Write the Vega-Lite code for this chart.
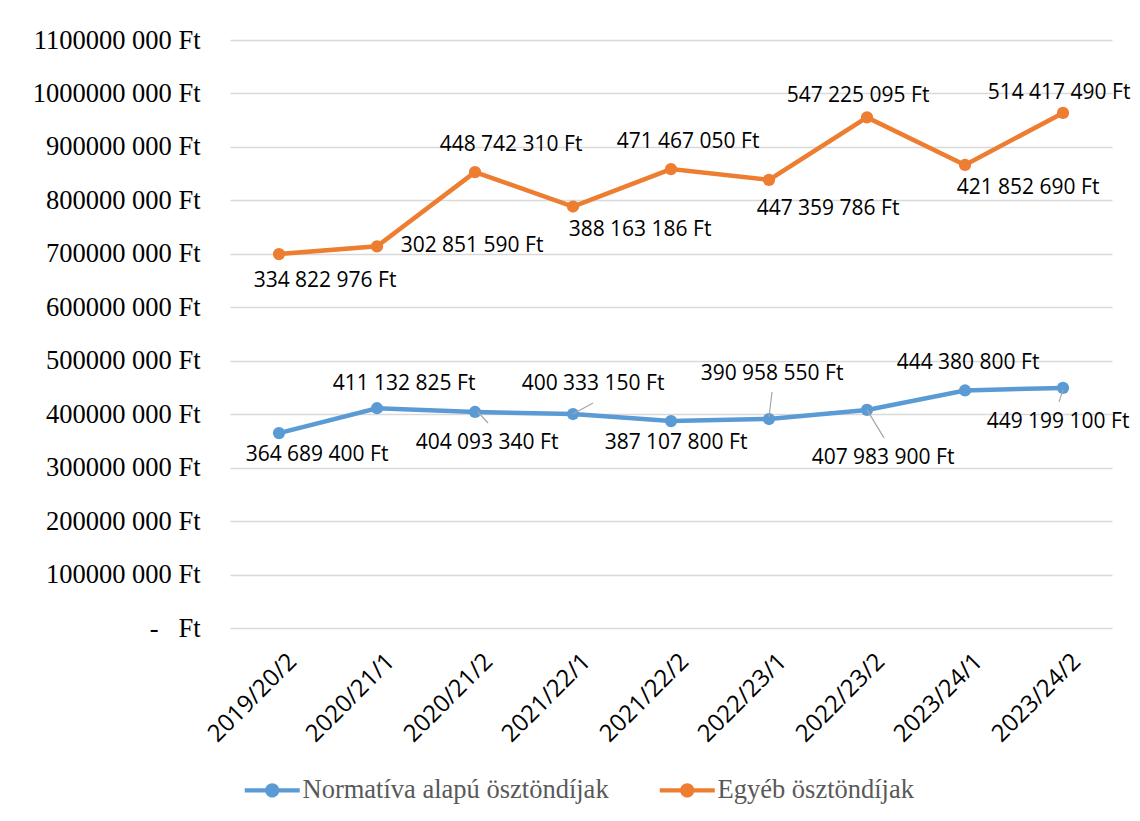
{
  "$schema": "https://vega.github.io/schema/vega-lite/v6.json",
  "width": 882,
  "height": 588,
  "autosize": {"type": "none"},
  "padding": {"left": 230, "top": 40, "right": 28, "bottom": 193},
  "background": "white",
  "config": {"view": {"stroke": null}, "font": "Open Sans"},
  "data": {"values": [
    {"cat": "2019/20/2", "series": "Normatíva alapú ösztöndíjak", "value": 364689400},
    {"cat": "2020/21/1", "series": "Normatíva alapú ösztöndíjak", "value": 411132825},
    {"cat": "2020/21/2", "series": "Normatíva alapú ösztöndíjak", "value": 404093340},
    {"cat": "2021/22/1", "series": "Normatíva alapú ösztöndíjak", "value": 400333150},
    {"cat": "2021/22/2", "series": "Normatíva alapú ösztöndíjak", "value": 387107800},
    {"cat": "2022/23/1", "series": "Normatíva alapú ösztöndíjak", "value": 390958550},
    {"cat": "2022/23/2", "series": "Normatíva alapú ösztöndíjak", "value": 407983900},
    {"cat": "2023/24/1", "series": "Normatíva alapú ösztöndíjak", "value": 444380800},
    {"cat": "2023/24/2", "series": "Normatíva alapú ösztöndíjak", "value": 449199100},
    {"cat": "2019/20/2", "series": "Egyéb ösztöndíjak", "value": 334822976},
    {"cat": "2020/21/1", "series": "Egyéb ösztöndíjak", "value": 302851590},
    {"cat": "2020/21/2", "series": "Egyéb ösztöndíjak", "value": 448742310},
    {"cat": "2021/22/1", "series": "Egyéb ösztöndíjak", "value": 388163186},
    {"cat": "2021/22/2", "series": "Egyéb ösztöndíjak", "value": 471467050},
    {"cat": "2022/23/1", "series": "Egyéb ösztöndíjak", "value": 447359786},
    {"cat": "2022/23/2", "series": "Egyéb ösztöndíjak", "value": 547225095},
    {"cat": "2023/24/1", "series": "Egyéb ösztöndíjak", "value": 421852690},
    {"cat": "2023/24/2", "series": "Egyéb ösztöndíjak", "value": 514417490}
  ]},
  "transform": [
    {"stack": "value", "groupby": ["cat"], "sort": [{"field": "series", "order": "descending"}], "as": ["y0", "y1"]},
    {"calculate": "join(split(format(datum.value, ','), ','), ' ') + ' Ft'", "as": "label"}
  ],
  "encoding": {
    "x": {
      "field": "cat", "type": "ordinal",
      "sort": ["2019/20/2", "2020/21/1", "2020/21/2", "2021/22/1", "2021/22/2", "2022/23/1", "2022/23/2", "2023/24/1", "2023/24/2"],
      "scale": {"type": "point", "padding": 0.5},
      "axis": {"title": null, "labelAngle": -45, "labelFont": "Open Sans", "labelFontSize": 24, "labelColor": "#000000", "ticks": false, "domain": false, "grid": false, "labelPadding": 21, "labelOffset": 5}
    },
    "y": {
      "field": "y1", "type": "quantitative",
      "scale": {"domain": [0, 1100000000], "nice": false},
      "axis": {
        "title": null,
        "values": [0, 100000000, 200000000, 300000000, 400000000, 500000000, 600000000, 700000000, 800000000, 900000000, 1000000000, 1100000000],
        "labelExpr": "datum.value == 0 ? '-\u00a0\u00a0\u00a0Ft' : format(datum.value / 1000, 'd') + ' 000 Ft'",
        "labelFont": "Liberation Serif", "labelFontSize": 26.5, "labelColor": "#000000",
        "labelPadding": 30, "ticks": false, "domain": false,
        "gridColor": "#D9D9D9", "gridWidth": 1.5
      }
    },
    "color": {
      "field": "series", "type": "nominal",
      "scale": {"domain": ["Normatíva alapú ösztöndíjak", "Egyéb ösztöndíjak"], "range": ["#5B9BD5", "#ED7D31"]},
      "legend": {
        "title": null, "orient": "none", "direction": "horizontal",
        "legendX": 29, "legendY": 737, "padding": 0,
        "labelFont": "Liberation Serif", "labelFontSize": 26.5, "labelColor": "#595959", "labelLimit": 0,
        "symbolSize": 484, "labelOffset": 17, "columnPadding": 50,
        "encode": {"symbols": {"update": {
          "shape": {"value": "M-2.5,-0.2 L2.5,-0.2 L2.5,0.2 L-2.5,0.2 Z M-0.64,0 A0.64,0.64 0 1,1 0.64,0 A0.64,0.64 0 1,1 -0.64,0 Z"},
          "fill": {"scale": "color", "field": "value"},
          "stroke": {"value": "transparent"},
          "strokeWidth": {"value": 0},
          "opacity": {"value": 1},
          "fillOpacity": {"value": 1},
          "size": {"value": 484}
        }}}
      }
    }
  },
  "layer": [
    {"mark": {"type": "line", "strokeWidth": 4.5}},
    {"mark": {"type": "point", "filled": true, "size": 150, "opacity": 1}},
    {
      "encoding": {"color": {"value": "#A6A6A6"}, "x2": {"field": "cat"}, "y2": {"field": "y1"}},
      "layer": [
        {"transform": [{"filter": "datum.cat == '2020/21/2' && datum.series == 'Normatíva alapú ösztöndíjak'"}], "mark": {"type": "rule", "strokeWidth": 1.2, "xOffset": 3, "yOffset": 0, "x2Offset": 13, "y2Offset": 11}},
        {"transform": [{"filter": "datum.cat == '2021/22/1' && datum.series == 'Normatíva alapú ösztöndíjak'"}], "mark": {"type": "rule", "strokeWidth": 1.2, "xOffset": 0, "yOffset": 0, "x2Offset": 20, "y2Offset": -11}},
        {"transform": [{"filter": "datum.cat == '2022/23/1' && datum.series == 'Normatíva alapú ösztöndíjak'"}], "mark": {"type": "rule", "strokeWidth": 1.2, "xOffset": 0, "yOffset": -2, "x2Offset": 3, "y2Offset": -27}},
        {"transform": [{"filter": "datum.cat == '2022/23/2' && datum.series == 'Normatíva alapú ösztöndíjak'"}], "mark": {"type": "rule", "strokeWidth": 1.2, "xOffset": 0, "yOffset": 0, "x2Offset": 17, "y2Offset": 28}},
        {"transform": [{"filter": "datum.cat == '2023/24/2' && datum.series == 'Normatíva alapú ösztöndíjak'"}], "mark": {"type": "rule", "strokeWidth": 1.2, "xOffset": 0, "yOffset": 2, "x2Offset": -4, "y2Offset": 14}}
      ]
    },
    {
      "encoding": {"text": {"field": "label"}, "color": {"value": "#000000"}},
      "layer": [
        {"transform": [{"filter": "datum.cat == '2019/20/2' && datum.series == 'Normatíva alapú ösztöndíjak'"}], "mark": {"type": "text", "font": "Open Sans", "fontSize": 21, "baseline": "middle", "align": "center", "dx": 38, "dy": 22}},
        {"transform": [{"filter": "datum.cat == '2020/21/1' && datum.series == 'Normatíva alapú ösztöndíjak'"}], "mark": {"type": "text", "font": "Open Sans", "fontSize": 21, "baseline": "middle", "align": "center", "dx": 27, "dy": -24}},
        {"transform": [{"filter": "datum.cat == '2020/21/2' && datum.series == 'Normatíva alapú ösztöndíjak'"}], "mark": {"type": "text", "font": "Open Sans", "fontSize": 21, "baseline": "middle", "align": "center", "dx": 12, "dy": 31}},
        {"transform": [{"filter": "datum.cat == '2021/22/1' && datum.series == 'Normatíva alapú ösztöndíjak'"}], "mark": {"type": "text", "font": "Open Sans", "fontSize": 21, "baseline": "middle", "align": "center", "dx": 20, "dy": -30}},
        {"transform": [{"filter": "datum.cat == '2021/22/2' && datum.series == 'Normatíva alapú ösztöndíjak'"}], "mark": {"type": "text", "font": "Open Sans", "fontSize": 21, "baseline": "middle", "align": "center", "dx": 5, "dy": 22}},
        {"transform": [{"filter": "datum.cat == '2022/23/1' && datum.series == 'Normatíva alapú ösztöndíjak'"}], "mark": {"type": "text", "font": "Open Sans", "fontSize": 21, "baseline": "middle", "align": "center", "dx": 3, "dy": -45}},
        {"transform": [{"filter": "datum.cat == '2022/23/2' && datum.series == 'Normatíva alapú ösztöndíjak'"}], "mark": {"type": "text", "font": "Open Sans", "fontSize": 21, "baseline": "middle", "align": "center", "dx": 16, "dy": 48}},
        {"transform": [{"filter": "datum.cat == '2023/24/1' && datum.series == 'Normatíva alapú ösztöndíjak'"}], "mark": {"type": "text", "font": "Open Sans", "fontSize": 21, "baseline": "middle", "align": "center", "dx": 3, "dy": -27}},
        {"transform": [{"filter": "datum.cat == '2023/24/2' && datum.series == 'Normatíva alapú ösztöndíjak'"}], "mark": {"type": "text", "font": "Open Sans", "fontSize": 21, "baseline": "middle", "align": "center", "dx": -5, "dy": 34}},
        {"transform": [{"filter": "datum.cat == '2019/20/2' && datum.series == 'Egyéb ösztöndíjak'"}], "mark": {"type": "text", "font": "Open Sans", "fontSize": 21, "baseline": "middle", "align": "center", "dx": 46, "dy": 27}},
        {"transform": [{"filter": "datum.cat == '2020/21/1' && datum.series == 'Egyéb ösztöndíjak'"}], "mark": {"type": "text", "font": "Open Sans", "fontSize": 21, "baseline": "middle", "align": "center", "dx": 95, "dy": 0}},
        {"transform": [{"filter": "datum.cat == '2020/21/2' && datum.series == 'Egyéb ösztöndíjak'"}], "mark": {"type": "text", "font": "Open Sans", "fontSize": 21, "baseline": "middle", "align": "center", "dx": 36, "dy": -27}},
        {"transform": [{"filter": "datum.cat == '2021/22/1' && datum.series == 'Egyéb ösztöndíjak'"}], "mark": {"type": "text", "font": "Open Sans", "fontSize": 21, "baseline": "middle", "align": "center", "dx": 67, "dy": 23}},
        {"transform": [{"filter": "datum.cat == '2021/22/2' && datum.series == 'Egyéb ösztöndíjak'"}], "mark": {"type": "text", "font": "Open Sans", "fontSize": 21, "baseline": "middle", "align": "center", "dx": 17, "dy": -27}},
        {"transform": [{"filter": "datum.cat == '2022/23/1' && datum.series == 'Egyéb ösztöndíjak'"}], "mark": {"type": "text", "font": "Open Sans", "fontSize": 21, "baseline": "middle", "align": "center", "dx": 59, "dy": 29}},
        {"transform": [{"filter": "datum.cat == '2022/23/2' && datum.series == 'Egyéb ösztöndíjak'"}], "mark": {"type": "text", "font": "Open Sans", "fontSize": 21, "baseline": "middle", "align": "center", "dx": -9, "dy": -21}},
        {"transform": [{"filter": "datum.cat == '2023/24/1' && datum.series == 'Egyéb ösztöndíjak'"}], "mark": {"type": "text", "font": "Open Sans", "fontSize": 21, "baseline": "middle", "align": "center", "dx": 63, "dy": 23}},
        {"transform": [{"filter": "datum.cat == '2023/24/2' && datum.series == 'Egyéb ösztöndíjak'"}], "mark": {"type": "text", "font": "Open Sans", "fontSize": 21, "baseline": "middle", "align": "center", "dx": -4, "dy": -20}}
      ]
    }
  ]
}
